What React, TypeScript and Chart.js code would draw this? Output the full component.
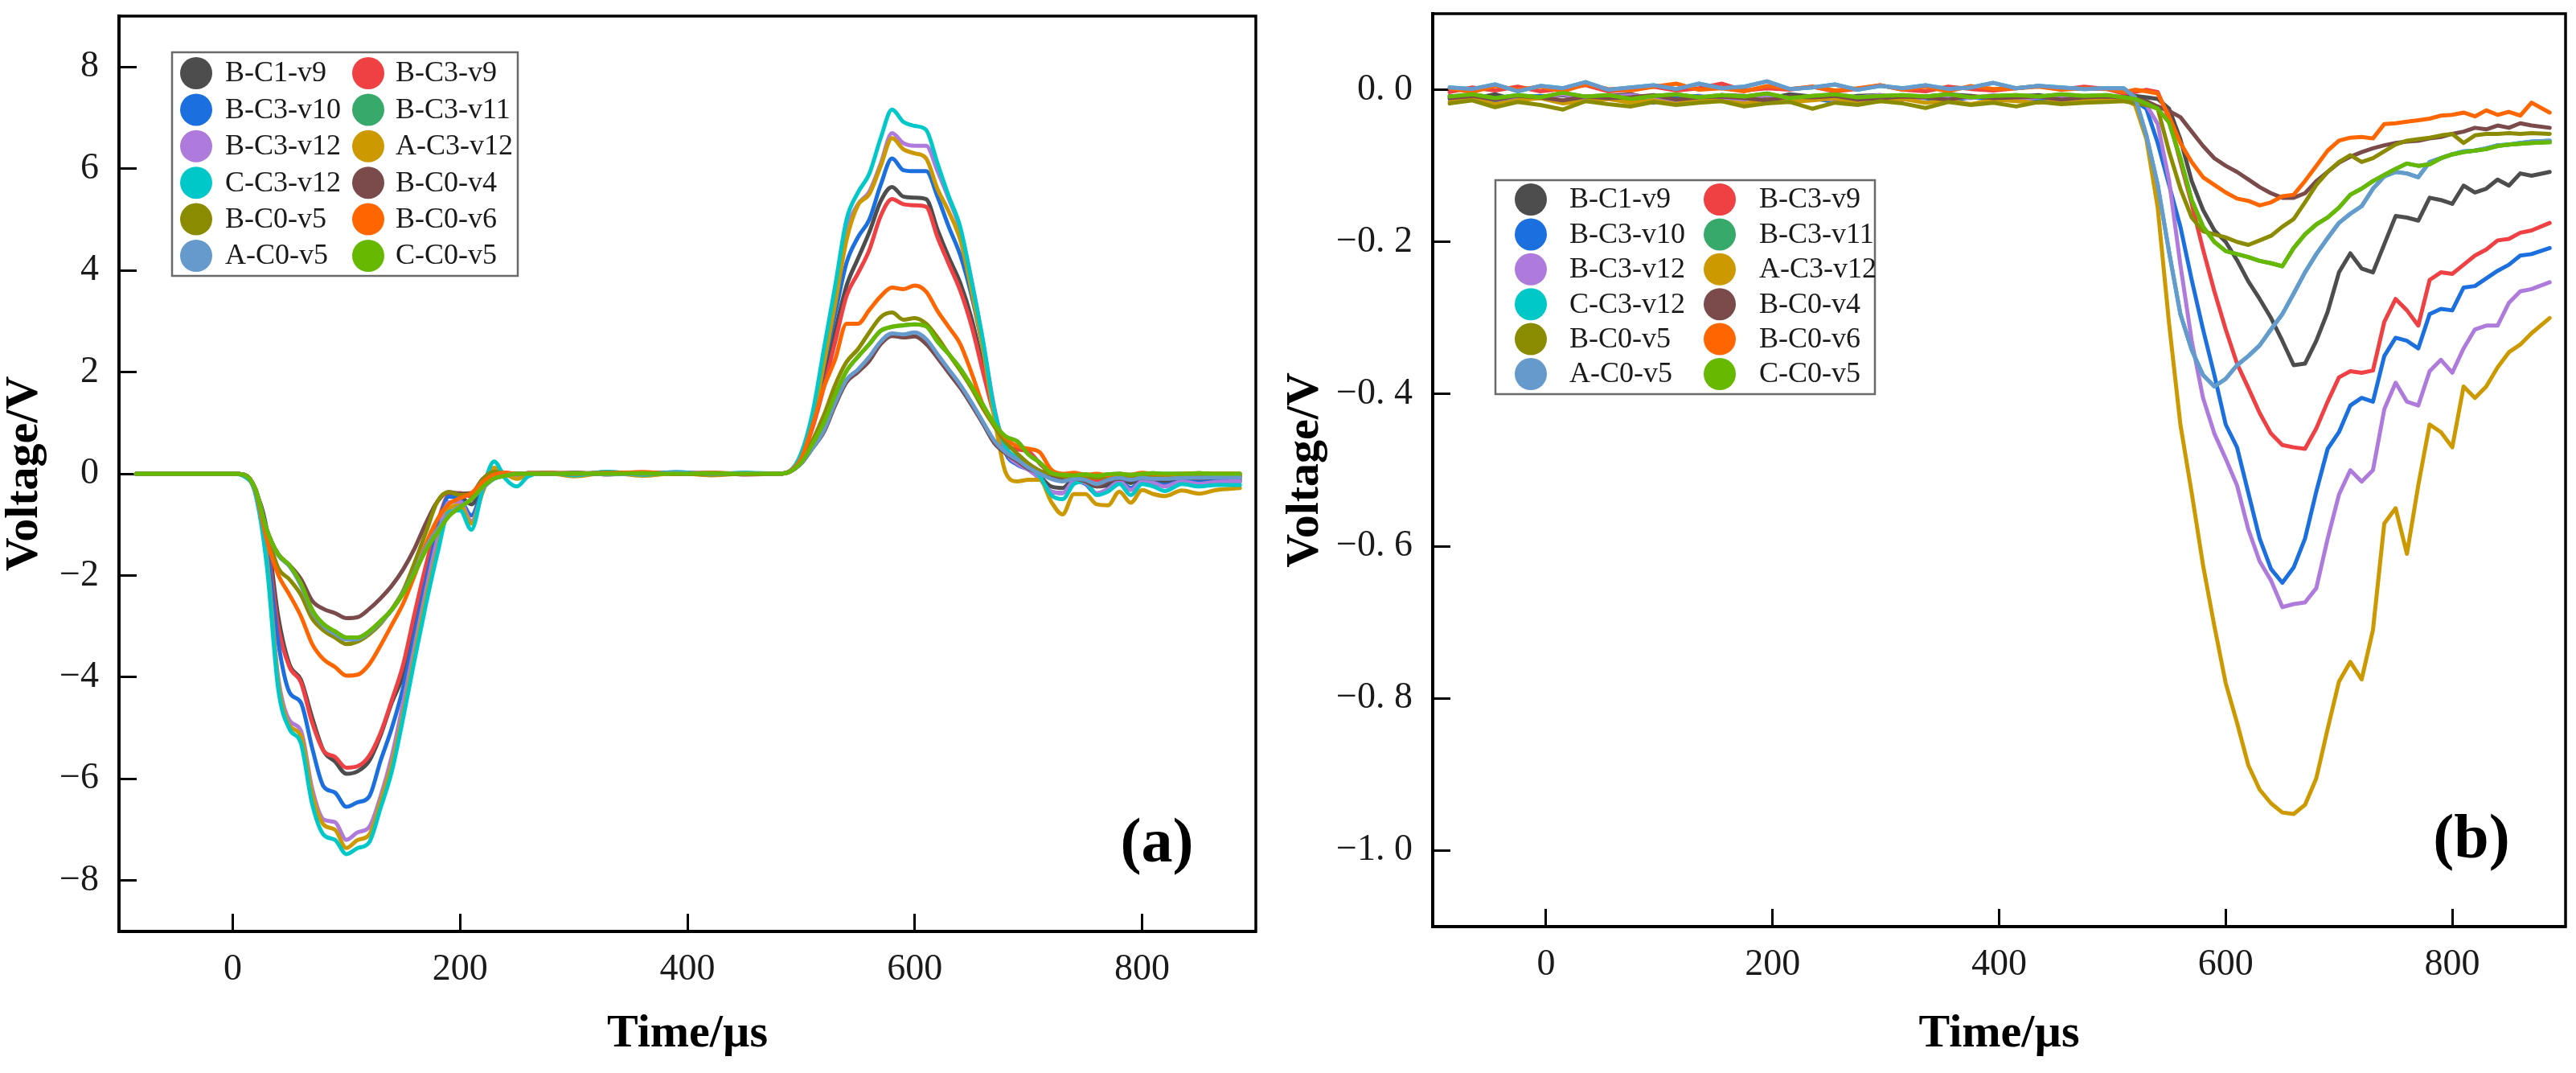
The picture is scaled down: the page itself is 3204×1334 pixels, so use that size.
import React, { useEffect, useRef } from "react";
import { Chart, registerables } from "chart.js";

Chart.register(...registerables);

const SERIF = '"Liberation Serif", "Times New Roman", Times, serif';

const SERIES_NAMES = [
  "B-C1-v9", "B-C3-v9", "B-C3-v10", "B-C3-v11", "B-C3-v12", "A-C3-v12",
  "C-C3-v12", "B-C0-v4", "B-C0-v5", "B-C0-v6", "A-C0-v5", "C-C0-v5",
];
const SERIES_COLORS = [
  "#4d4d4d", "#ef4043", "#1b6fdf", "#36a96b", "#ae7bdc", "#cc9900",
  "#00c8c8", "#7b4b4b", "#8b8b00", "#ff6600", "#6699cc", "#66b800",
];

const X_TICKS = [0, 200, 400, 600, 800];
const Y_TICKS_A = [-8, -6, -4, -2, 0, 2, 4, 6, 8];
const Y_LABELS_A = ["\u22128", "\u22126", "\u22124", "\u22122", "0", "2", "4", "6", "8"];
const Y_TICKS_B = [-1.0, -0.8, -0.6, -0.4, -0.2, 0.0];
const Y_LABELS_B = ["\u22121. 0", "\u22120. 8", "\u22120. 6", "\u22120. 4", "\u22120. 2", "0. 0"];

// ---------- Panel (a) ----------
const TIME_A = [
  -85, -40, 0,
  10, 20, 30, 40, 50, 60, 70, 80, 90, 100, 110, 120, 130, 140, 150, 160, 170, 180, 190, 200, 210, 220, 230, 240, 250, 260,
  280, 300, 330, 360, 390, 420, 450,
  480, 490, 500, 510, 520, 530, 540, 550, 560, 570, 580, 590, 600, 610, 620, 630, 640, 650, 660, 670, 680, 690, 700,
  710, 720, 730, 740, 750, 760, 770, 780, 790, 800, 810, 820,
  835, 850, 865, 886,
];

const A_B_C1_V9 = [
  0, 0, 0,
  -0.02, -0.33, -1.1, -2.8, -3.75, -4.05, -4.8, -5.45, -5.66, -5.9, -5.85, -5.65, -5.15, -4.5, -3.95, -3.0, -2.05, -1.15, -0.44, -0.45, -0.6, -0.25, 0.02, 0.0, -0.02, 0.01,
  0.02, -0.01, 0.03, 0.0, 0.02, -0.02, 0.01,
  0, 0.05, 0.3, 0.95, 1.85, 2.8, 3.7, 4.23, 4.75, 5.36, 5.64, 5.45, 5.43, 5.4, 4.8, 4.25, 3.75, 3.05, 2.1, 1.2, 0.5, 0.25, 0.12,
  -0.05, -0.25, -0.28, -0.1, -0.15, -0.25, -0.22, -0.1, -0.18, -0.1, -0.12, -0.15,
  -0.1, -0.12, -0.1, -0.11,
];
const A_B_C3_V9 = [
  0, 0, 0,
  -0.02, -0.33, -1.3, -3.0, -3.8, -4.1, -4.9, -5.45, -5.57, -5.78, -5.75, -5.55, -5.1, -4.45, -3.75, -2.75, -1.8, -0.98, -0.42, -0.38, -0.45, -0.2, 0.0, 0.02, 0.0, 0.01,
  0.0, 0.02, -0.01, 0.03, 0.0, 0.02, -0.01,
  0, 0.05, 0.3, 0.9, 1.7, 2.6, 3.5, 3.94, 4.4, 5.07, 5.4, 5.3, 5.28, 5.25, 4.65, 4.12, 3.6, 2.9, 2.0, 1.15, 0.6, 0.48, 0.44,
  0.2, 0.0, -0.08, -0.02, -0.05, -0.12, -0.08, -0.03, -0.08, -0.05, -0.06, -0.08,
  -0.05, -0.06, -0.05, -0.05,
];
const A_B_C3_V10 = [
  0, 0, 0,
  -0.02, -0.35, -1.4, -3.3, -4.3, -4.5, -5.4, -6.15, -6.27, -6.55, -6.46, -6.35, -5.65, -5.0, -4.2, -3.15, -2.1, -1.15, -0.45, -0.5, -0.82, -0.3, 0.05, 0.0, -0.05, 0.0,
  0.01, -0.02, 0.02, -0.01, 0.03, 0.0, 0.01,
  0, 0.05, 0.35, 1.0, 2.1, 3.15, 4.15, 4.65, 5.0, 5.68, 6.2, 5.97, 5.95, 5.95, 5.45, 4.85, 4.3, 3.5, 2.45, 1.2, 0.4, 0.18, 0.08,
  -0.1, -0.35, -0.38, -0.15, -0.2, -0.4, -0.3, -0.15, -0.28, -0.15, -0.18, -0.22,
  -0.15, -0.17, -0.15, -0.15,
];
const A_B_C3_V11 = [
  0, 0, 0,
  -0.02, -0.3, -1.1, -1.58, -1.8, -2.15, -2.68, -2.96, -3.1, -3.22, -3.22, -3.1, -2.9, -2.67, -2.35, -1.95, -1.5, -1.16, -0.84, -0.66, -0.5, -0.26, -0.09, -0.04, 0.0, 0.0,
  0.0, 0.01, 0.0, 0.01, 0.0, 0.01, 0.0,
  0, 0.04, 0.22, 0.58, 1.0, 1.55, 2.02, 2.3, 2.55, 2.81, 2.89, 2.92, 2.94, 2.9, 2.6, 2.35, 2.07, 1.72, 1.35, 0.98, 0.73, 0.64, 0.38,
  0.22, 0.02, -0.02, -0.03, -0.01, -0.04, -0.01, 0.0, -0.02, 0.0, 0.01, 0.0,
  0.0, 0.01, 0.0, 0.0,
];
const A_B_C3_V12 = [
  0, 0, 0,
  -0.02, -0.36, -1.65, -4.0, -4.85, -5.05, -6.2, -6.8, -6.85, -7.2, -7.05, -6.95, -6.35, -5.55, -4.5, -3.4, -2.3, -1.3, -0.56, -0.55, -0.93, -0.35, 0.1, -0.02, -0.08, 0.0,
  0.02, 0.0, 0.03, -0.02, 0.01, 0.02, -0.01,
  0, 0.05, 0.38, 1.1, 2.3, 3.6, 4.8, 5.3, 5.55, 6.1, 6.7, 6.5, 6.45, 6.45, 5.95, 5.4, 4.8, 3.8, 2.6, 1.3, 0.45, 0.2, 0.08,
  -0.1, -0.35, -0.38, -0.15, -0.18, -0.38, -0.3, -0.15, -0.32, -0.15, -0.18, -0.25,
  -0.15, -0.2, -0.16, -0.15,
];
const A_A_C3_V12 = [
  0, 0, 0,
  -0.02, -0.36, -1.7, -4.1, -4.95, -5.15, -6.3, -6.9, -7.0, -7.36, -7.2, -7.1, -6.45, -5.7, -4.7, -3.55, -2.45, -1.5, -0.7, -0.62, -0.98, -0.35, 0.12, 0.0, -0.1, -0.02,
  0.0, -0.05, 0.02, -0.04, 0.01, -0.03, 0.0,
  0, 0.05, 0.35, 1.05, 2.15, 3.35, 4.6, 5.28, 5.5, 6.05, 6.6, 6.38, 6.3, 6.2, 5.6, 5.15, 4.6, 3.6, 2.45, 1.1, 0.02, -0.15, -0.12,
  -0.12, -0.55, -0.8, -0.4, -0.4, -0.6, -0.62, -0.35, -0.57, -0.32, -0.4, -0.44,
  -0.33, -0.39, -0.32, -0.28,
];
const A_C_C3_V12 = [
  0, 0, 0,
  -0.05, -0.4, -1.8, -4.22, -5.02, -5.3, -6.5, -7.1, -7.2, -7.48, -7.36, -7.25, -6.58, -5.85, -4.8, -3.66, -2.57, -1.58, -0.76, -0.72, -1.1, -0.3, 0.24, -0.1, -0.25, -0.05,
  0.02, -0.03, 0.04, -0.02, 0.03, -0.01, 0.02,
  0, 0.05, 0.4, 1.19, 2.45, 3.7, 5.0, 5.53, 5.9, 6.6, 7.16, 6.92, 6.84, 6.76, 6.1, 5.45, 4.85, 3.78, 2.62, 1.25, 0.52, 0.32, 0.16,
  -0.05, -0.42, -0.5, -0.2, -0.15, -0.42, -0.35, -0.2, -0.42, -0.2, -0.25, -0.34,
  -0.2, -0.25, -0.22, -0.22,
];
const A_B_C0_V4 = [
  0, 0, 0,
  -0.02, -0.3, -1.1, -1.58, -1.8, -2.07, -2.5, -2.66, -2.74, -2.84, -2.82, -2.66, -2.45, -2.2, -1.88, -1.47, -0.97, -0.55, -0.36, -0.39, -0.38, -0.1, 0.03, 0.0, 0.0, 0.01,
  0.0, 0.02, -0.01, 0.02, 0.0, 0.01, -0.01,
  0, 0.04, 0.2, 0.5, 0.82, 1.35, 1.8, 2.0, 2.22, 2.55, 2.71, 2.68, 2.7, 2.55, 2.28, 1.98, 1.69, 1.35, 0.98, 0.6, 0.4, 0.25, 0.1,
  0.02, -0.07, -0.12, -0.1, -0.15, -0.25, -0.15, -0.1, -0.12, -0.08, -0.1, -0.08,
  -0.07, -0.07, -0.06, -0.05,
];
const A_B_C0_V5 = [
  0, 0, 0,
  -0.02, -0.3, -1.15, -1.85, -2.08, -2.38, -2.85, -3.08, -3.22, -3.35, -3.3, -3.16, -2.95, -2.66, -2.3, -1.75, -1.15, -0.55, -0.36, -0.42, -0.4, -0.11, 0.04, 0.0, 0.0, 0.01,
  0.01, 0.0, 0.02, 0.0, 0.01, -0.01, 0.0,
  0, 0.04, 0.25, 0.65, 1.15, 1.75, 2.2, 2.45, 2.78, 3.08, 3.17, 3.03, 3.06, 2.95, 2.68, 2.35, 2.03, 1.68, 1.28, 0.93, 0.62, 0.4, 0.2,
  0.06, 0.0, -0.05, -0.08, -0.05, -0.08, -0.05, -0.03, -0.05, -0.03, -0.04, -0.03,
  -0.03, -0.03, -0.03, -0.03,
];
const A_B_C0_V6 = [
  0, 0, 0,
  -0.02, -0.33, -1.3, -1.98, -2.38, -2.8, -3.35, -3.65, -3.8, -3.97, -3.95, -3.75, -3.38, -2.97, -2.55, -2.0, -1.38, -0.9, -0.6, -0.48, -0.38, -0.16, -0.02, 0.02, 0.0, 0.01,
  0.02, 0.0, 0.01, 0.03, 0.0, 0.02, 0.0,
  0, 0.05, 0.3, 0.95, 1.7, 2.25, 2.95, 2.95, 3.22, 3.49, 3.66, 3.63, 3.7, 3.58, 3.2, 2.88, 2.55, 1.98, 1.35, 0.98, 0.7, 0.54, 0.49,
  0.42, 0.08, 0.0, 0.02, -0.02, 0.0, -0.03, 0.0, -0.02, 0.02, 0.0, -0.01,
  0.0, 0.01, 0.0, 0.0,
];
const A_A_C0_V5 = [
  0, 0, 0,
  -0.02, -0.3, -1.1, -1.6, -1.82, -2.2, -2.72, -3.0, -3.15, -3.26, -3.25, -3.12, -2.92, -2.68, -2.33, -1.92, -1.45, -1.1, -0.8, -0.64, -0.5, -0.28, -0.1, -0.04, 0.0, 0.0,
  0.0, 0.01, -0.01, 0.0, 0.02, 0.0, 0.01,
  0, 0.04, 0.2, 0.5, 0.85, 1.4, 1.85, 2.05, 2.3, 2.6, 2.76, 2.74, 2.78, 2.65, 2.35, 2.05, 1.75, 1.4, 1.02, 0.65, 0.42, 0.28, 0.12,
  0.0, -0.1, -0.15, -0.1, -0.12, -0.2, -0.12, -0.08, -0.12, -0.08, -0.1, -0.1,
  -0.08, -0.08, -0.07, -0.07,
];
const A_C_C0_V5 = [
  0, 0, 0,
  -0.02, -0.3, -1.1, -1.58, -1.8, -2.15, -2.68, -2.96, -3.1, -3.22, -3.22, -3.1, -2.9, -2.67, -2.35, -1.95, -1.5, -1.16, -0.84, -0.66, -0.5, -0.26, -0.09, -0.04, 0.0, 0.0,
  0.0, 0.01, 0.0, 0.01, 0.0, 0.01, 0.0,
  0, 0.04, 0.22, 0.58, 1.0, 1.55, 2.02, 2.3, 2.55, 2.81, 2.89, 2.92, 2.94, 2.9, 2.6, 2.35, 2.07, 1.72, 1.35, 0.98, 0.73, 0.64, 0.38,
  0.22, 0.02, -0.02, -0.03, -0.01, -0.04, -0.01, 0.0, -0.02, 0.0, 0.01, 0.0,
  0.0, 0.01, 0.0, 0.0,
];
const VALUES_A = [
  A_B_C1_V9, A_B_C3_V9, A_B_C3_V10, A_B_C3_V11, A_B_C3_V12, A_A_C3_V12,
  A_C_C3_V12, A_B_C0_V4, A_B_C0_V5, A_B_C0_V6, A_A_C0_V5, A_C_C0_V5,
];

// ---------- Panel (b) ----------
const TIME_B = [
  -85, -65, -45, -25, -5, 15, 35, 55, 75, 95, 115, 135, 155, 175, 195, 215, 235, 255, 275, 295,
  315, 335, 355, 375, 395, 415, 435, 455, 475, 495,
  510, 520, 530, 540, 550, 560, 570, 580, 590, 600, 610, 620, 630, 640, 650, 660, 670, 680, 690, 700,
  710, 720, 730, 740, 750, 760, 770, 780, 790, 800, 810, 820, 830, 840, 850, 860, 870, 886,
];

const B_B_C1_V9 = [
  -0.008, -0.012, -0.006, -0.014, -0.009, -0.007, -0.013, -0.008, -0.006, -0.012, -0.009, -0.015, -0.007, -0.008, -0.012,
  -0.006, -0.009, -0.013, -0.008, -0.007, -0.012, -0.009, -0.006, -0.008, -0.013, -0.009, -0.007, -0.012, -0.008, -0.009,
  -0.01, -0.008, -0.01, -0.012, -0.025, -0.065, -0.12, -0.158, -0.185, -0.2,
  -0.224, -0.252, -0.275, -0.3, -0.33, -0.362, -0.36, -0.33, -0.292, -0.24,
  -0.215, -0.235, -0.24, -0.203, -0.166, -0.168, -0.172, -0.142, -0.145, -0.15,
  -0.126, -0.135, -0.13, -0.118, -0.126, -0.11, -0.113, -0.108,
];
const B_B_C3_V9 = [
  -0.003, 0.003, -0.001, 0.004, -0.002, 0.001, 0.006, -0.002, 0.0, 0.004, -0.001, 0.002, 0.008, -0.001, 0.002,
  0.0, 0.004, -0.002, 0.001, 0.006, 0.0, -0.002, 0.004, 0.001, -0.001, 0.002, 0.005, 0.0, 0.004, 0.001,
  -0.005, -0.003, 0.0, -0.003, -0.038, -0.095, -0.15, -0.21, -0.265, -0.315,
  -0.36, -0.392, -0.425, -0.452, -0.467, -0.47, -0.472, -0.445, -0.41, -0.378,
  -0.37, -0.372, -0.369, -0.305, -0.275, -0.29, -0.31, -0.25, -0.24, -0.242,
  -0.23, -0.218, -0.21, -0.198, -0.196, -0.188, -0.185, -0.175,
];
const B_B_C3_V10 = [
  -0.012, -0.009, -0.016, -0.01, -0.008, -0.015, -0.011, -0.009, -0.012, -0.017, -0.01, -0.008, -0.014, -0.01, -0.015,
  -0.009, -0.011, -0.016, -0.01, -0.012, -0.009, -0.011, -0.015, -0.01, -0.012, -0.009, -0.013, -0.01, -0.012, -0.011,
  -0.012, -0.015, -0.025, -0.07, -0.125, -0.18, -0.25, -0.315, -0.375, -0.44,
  -0.47, -0.53, -0.59, -0.63, -0.648, -0.628, -0.59, -0.528, -0.472, -0.45,
  -0.415, -0.405, -0.41, -0.35, -0.326, -0.33, -0.34, -0.295, -0.288, -0.29,
  -0.26, -0.258, -0.248, -0.238, -0.23, -0.218, -0.216, -0.208,
];
const B_B_C3_V11 = [
  -0.009, -0.006, -0.011, -0.007, -0.01, -0.004, -0.009, -0.007, -0.012, -0.008, -0.006, -0.01, -0.007, -0.009, -0.005,
  -0.011, -0.008, -0.006, -0.01, -0.008, -0.007, -0.009, -0.006, -0.01, -0.008, -0.007, -0.009, -0.006, -0.008, -0.007,
  -0.01, -0.012, -0.018, -0.025, -0.043, -0.09, -0.145, -0.18, -0.2, -0.212,
  -0.216, -0.22, -0.225, -0.228, -0.232, -0.208, -0.19, -0.177, -0.168, -0.155,
  -0.138, -0.13, -0.12, -0.112, -0.104, -0.097, -0.1, -0.098, -0.09, -0.085,
  -0.082, -0.08, -0.078, -0.074, -0.072, -0.071, -0.07, -0.069,
];
const B_B_C3_V12 = [
  -0.01, -0.007, -0.013, -0.009, -0.011, -0.006, -0.013, -0.01, -0.007, -0.011, -0.014, -0.009, -0.01, -0.013, -0.007,
  -0.011, -0.009, -0.014, -0.01, -0.007, -0.013, -0.01, -0.009, -0.011, -0.007, -0.013, -0.01, -0.009, -0.011, -0.01,
  -0.012, -0.015, -0.02, -0.045, -0.119, -0.23, -0.33, -0.405, -0.452, -0.485,
  -0.52, -0.578, -0.62, -0.645, -0.68, -0.676, -0.674, -0.655, -0.59, -0.532,
  -0.5, -0.515, -0.5, -0.42, -0.385, -0.41, -0.415, -0.37, -0.355, -0.372,
  -0.34, -0.315, -0.31, -0.31, -0.28, -0.265, -0.262, -0.253,
];
const B_A_C3_V12 = [
  -0.016, -0.012, -0.019, -0.014, -0.011, -0.018, -0.015, -0.012, -0.017, -0.014, -0.019, -0.012, -0.015, -0.018, -0.013,
  -0.016, -0.014, -0.011, -0.018, -0.015, -0.012, -0.017, -0.014, -0.019, -0.013, -0.015, -0.017, -0.014, -0.013, -0.012,
  -0.012, -0.02, -0.065, -0.155, -0.307, -0.44, -0.53, -0.625, -0.705, -0.78,
  -0.832, -0.888, -0.92, -0.938, -0.95, -0.952, -0.94, -0.905, -0.84, -0.778,
  -0.752, -0.775, -0.71, -0.57, -0.55, -0.61, -0.52, -0.44, -0.45, -0.47,
  -0.39, -0.405, -0.39, -0.365, -0.345, -0.335, -0.32, -0.3,
];
const B_C_C3_V12 = [
  0.003, 0.001, 0.007, -0.002, 0.005, 0.002, 0.01, 0.0, 0.003, 0.006, 0.001, 0.008, 0.002, 0.004, 0.011,
  0.001, 0.003, 0.007, 0.0, 0.005, 0.002, 0.006, 0.001, 0.003, 0.009, 0.002, 0.005, 0.003, 0.001, 0.002,
  0.002, -0.01, -0.06, -0.125, -0.213, -0.295, -0.342, -0.375, -0.39, -0.38,
  -0.362, -0.35, -0.336, -0.315, -0.295, -0.268, -0.24, -0.216, -0.195, -0.175,
  -0.163, -0.153, -0.13, -0.114, -0.108, -0.11, -0.115, -0.095, -0.09, -0.085,
  -0.081, -0.08, -0.077, -0.073, -0.072, -0.07, -0.068, -0.067,
];
const B_B_C0_V4 = [
  -0.011, -0.008, -0.013, -0.008, -0.01, -0.014, -0.009, -0.011, -0.01, -0.007, -0.013, -0.01, -0.009, -0.011, -0.014,
  -0.009, -0.01, -0.008, -0.013, -0.011, -0.009, -0.01, -0.013, -0.008, -0.011, -0.01, -0.009, -0.013, -0.01, -0.009,
  -0.01, -0.012, -0.015, -0.022, -0.028, -0.036, -0.055, -0.074, -0.09, -0.1,
  -0.108, -0.118, -0.128, -0.136, -0.142, -0.142, -0.136, -0.12, -0.108, -0.096,
  -0.088, -0.082, -0.077, -0.073, -0.07, -0.068, -0.067, -0.064, -0.062, -0.058,
  -0.055, -0.05, -0.052, -0.047, -0.05, -0.044, -0.047, -0.05,
];
const B_B_C0_V5 = [
  -0.018, -0.014, -0.023, -0.016, -0.02, -0.026, -0.015, -0.019, -0.022, -0.016, -0.02, -0.017, -0.015, -0.022, -0.018,
  -0.016, -0.025, -0.017, -0.02, -0.015, -0.018, -0.024, -0.016, -0.02, -0.017, -0.022, -0.016, -0.019, -0.017, -0.016,
  -0.015, -0.018, -0.02, -0.025, -0.081, -0.13, -0.168, -0.186, -0.19, -0.194,
  -0.2, -0.204, -0.198, -0.192, -0.18, -0.17, -0.148, -0.125, -0.108, -0.095,
  -0.086, -0.095, -0.09, -0.081, -0.072, -0.067, -0.065, -0.063, -0.06, -0.058,
  -0.07, -0.06, -0.058, -0.058, -0.057, -0.058, -0.057, -0.058,
];
const B_B_C0_V6 = [
  0.002, -0.003, 0.005, 0.0, 0.004, -0.002, 0.007, 0.001, -0.001, 0.004, 0.008, 0.0, 0.002, -0.002, 0.005,
  0.001, 0.004, -0.001, 0.002, 0.006, 0.0, 0.004, -0.002, 0.005, 0.001, 0.002, 0.004, 0.0, 0.002, 0.001,
  -0.003, 0.0, -0.002, -0.005, -0.035, -0.07, -0.095, -0.115, -0.125, -0.135,
  -0.143, -0.146, -0.152, -0.148, -0.14, -0.138, -0.12, -0.1, -0.08, -0.067,
  -0.063, -0.062, -0.064, -0.045, -0.044, -0.042, -0.04, -0.038, -0.034, -0.033,
  -0.03, -0.035, -0.027, -0.033, -0.029, -0.034, -0.017, -0.03,
];
const B_A_C0_V5 = [
  0.003, 0.001, 0.007, -0.002, 0.005, 0.002, 0.01, 0.0, 0.003, 0.006, 0.001, 0.008, 0.002, 0.004, 0.011,
  0.001, 0.003, 0.007, 0.0, 0.005, 0.002, 0.006, 0.001, 0.003, 0.009, 0.002, 0.005, 0.003, 0.001, 0.002,
  0.002, -0.01, -0.06, -0.125, -0.213, -0.295, -0.342, -0.375, -0.39, -0.38,
  -0.362, -0.35, -0.336, -0.315, -0.295, -0.268, -0.24, -0.216, -0.195, -0.175,
  -0.163, -0.153, -0.13, -0.114, -0.108, -0.11, -0.115, -0.095, -0.09, -0.085,
  -0.081, -0.08, -0.077, -0.073, -0.072, -0.07, -0.068, -0.067,
];
const B_C_C0_V5 = [
  -0.009, -0.006, -0.011, -0.007, -0.01, -0.004, -0.009, -0.007, -0.012, -0.008, -0.006, -0.01, -0.007, -0.009, -0.005,
  -0.011, -0.008, -0.006, -0.01, -0.008, -0.007, -0.009, -0.006, -0.01, -0.008, -0.007, -0.009, -0.006, -0.008, -0.007,
  -0.01, -0.012, -0.018, -0.025, -0.043, -0.09, -0.145, -0.18, -0.2, -0.212,
  -0.216, -0.22, -0.225, -0.228, -0.232, -0.208, -0.19, -0.177, -0.168, -0.155,
  -0.138, -0.13, -0.12, -0.112, -0.104, -0.097, -0.1, -0.098, -0.09, -0.085,
  -0.082, -0.08, -0.078, -0.074, -0.072, -0.071, -0.07, -0.069,
];
const VALUES_B = [
  B_B_C1_V9, B_B_C3_V9, B_B_C3_V10, B_B_C3_V11, B_B_C3_V12, B_A_C3_V12,
  B_C_C3_V12, B_B_C0_V4, B_B_C0_V5, B_B_C0_V6, B_A_C0_V5, B_C_C0_V5,
];

type LegendGeom = {
  x0: number; y0: number; x1: number; y1: number;
  row0: number; rowStep: number; circleX: number[]; textX: number[]; r: number;
};
type PanelCfg = {
  left: number; w: number; h: number;
  area: { left: number; top: number; right: number; bottom: number };
  time: number[]; values: number[][];
  yMin: number; yMax: number; yTicks: number[]; yLabels: string[];
  yTitlePad: number;
  smooth: boolean;
  legend: LegendGeom;
  tag: string; tagX: number; tagY: number;
};

const PANEL_A: PanelCfg = {
  left: 0, w: 1580, h: 1334,
  area: { left: 148, top: 20, right: 1562, bottom: 1158 },
  time: TIME_A, values: VALUES_A,
  yMin: -9, yMax: 9, yTicks: Y_TICKS_A, yLabels: Y_LABELS_A,
  yTitlePad: 2,
  smooth: true,
  legend: { x0: 214, y0: 65, x1: 644, y1: 343, row0: 91, rowStep: 45.4, circleX: [244, 458], textX: [280, 492], r: 20 },
  tag: "(a)", tagX: 1439, tagY: 1051,
};
const PANEL_B: PanelCfg = {
  left: 1580, w: 1624, h: 1334,
  area: { left: 202, top: 17, right: 1611, bottom: 1152 },
  time: TIME_B, values: VALUES_B,
  yMin: -1.1, yMax: 0.1, yTicks: Y_TICKS_B, yLabels: Y_LABELS_B,
  yTitlePad: 15,
  smooth: false,
  legend: { x0: 280, y0: 224, x1: 752, y1: 490, row0: 248, rowStep: 43.4, circleX: [324, 559], textX: [372, 608], r: 20 },
  tag: "(b)", tagX: 1494, tagY: 1046,
};

function Panel({ cfg }: { cfg: PanelCfg }) {
  const ref = useRef<HTMLCanvasElement>(null);
  useEffect(() => {
    const canvas = ref.current;
    if (!canvas) return;
    const { area, w, h } = cfg;
    const datasets = SERIES_NAMES.map((name, i) => ({
      label: name,
      data: cfg.time.map((t, k) => ({ x: t, y: cfg.values[i][k] })),
      borderColor: SERIES_COLORS[i],
      backgroundColor: SERIES_COLORS[i],
      borderWidth: 5,
      pointRadius: 0,
      fill: false,
      order: SERIES_NAMES.length - i,
      tension: cfg.smooth ? 0.4 : 0,
      cubicInterpolationMode: cfg.smooth ? ("monotone" as const) : ("default" as const),
      borderJoinStyle: "round" as const,
      borderCapStyle: "round" as const,
    }));

    const decor = {
      id: "decor",
      afterDraw(chart: any) {
        const ctx = chart.ctx as CanvasRenderingContext2D;
        const ca = chart.chartArea;
        ctx.save();
        ctx.strokeStyle = "#000";
        ctx.lineWidth = 3.5;
        ctx.strokeRect(ca.left, ca.top, ca.right - ca.left, ca.bottom - ca.top);
        const L = cfg.legend;
        ctx.fillStyle = "#fff";
        ctx.fillRect(L.x0, L.y0, L.x1 - L.x0, L.y1 - L.y0);
        ctx.strokeStyle = "#6a6a6a";
        ctx.lineWidth = 2.5;
        ctx.strokeRect(L.x0, L.y0, L.x1 - L.x0, L.y1 - L.y0);
        ctx.font = `36px ${SERIF}`;
        ctx.textBaseline = "middle";
        ctx.textAlign = "left";
        SERIES_NAMES.forEach((name, i) => {
          const row = Math.floor(i / 2);
          const col = i % 2;
          const cy = L.row0 + row * L.rowStep;
          ctx.beginPath();
          ctx.arc(L.circleX[col], cy, L.r, 0, Math.PI * 2);
          ctx.fillStyle = SERIES_COLORS[i];
          ctx.fill();
          ctx.fillStyle = "#1a1a1a";
          ctx.fillText(name, L.textX[col], cy + 1);
        });
        ctx.font = `bold 78px ${SERIF}`;
        ctx.textAlign = "center";
        ctx.fillStyle = "#000";
        ctx.fillText(cfg.tag, cfg.tagX, cfg.tagY);
        ctx.restore();
      },
    };

    const chart = new Chart(canvas, {
      type: "line",
      data: { datasets },
      options: {
        animation: false,
        responsive: false,
        maintainAspectRatio: false,
        devicePixelRatio: 1,
        layout: { padding: { left: 0, top: area.top, right: w - area.right, bottom: 0 } },
        plugins: { legend: { display: false }, tooltip: { enabled: false } },
        scales: {
          x: {
            type: "linear",
            position: "bottom",
            min: -100,
            max: 900,
            afterBuildTicks: (s: any) => {
              s.ticks = X_TICKS.map((v) => ({ value: v }));
            },
            afterFit: (s: any) => {
              s.height = h - area.bottom;
              s.paddingLeft = 0;
              s.paddingRight = 0;
            },
            grid: { display: true, drawOnChartArea: false, drawTicks: true, tickLength: -22, tickWidth: 3, tickColor: "#000" },
            border: { display: true, color: "#000", width: 4 },
            ticks: {
              autoSkip: false,
              maxRotation: 0,
              minRotation: 0,
              color: "#1a1a1a",
              padding: 47,
              font: { family: SERIF, size: 46, lineHeight: 1 },
              callback: (v: any) => String(v),
            },
            title: {
              display: true,
              text: "Time/\u00b5s",
              color: "#000",
              font: { family: SERIF, size: 58, weight: "bold", lineHeight: 1 },
              padding: { top: 0, bottom: 19 },
            },
          },
          y: {
            type: "linear",
            position: "left",
            min: cfg.yMin,
            max: cfg.yMax,
            afterBuildTicks: (s: any) => {
              s.ticks = cfg.yTicks.map((v) => ({ value: v }));
            },
            afterFit: (s: any) => {
              s.width = area.left;
              s.paddingTop = 0;
              s.paddingBottom = 0;
            },
            grid: { display: true, drawOnChartArea: false, drawTicks: true, tickLength: -22, tickWidth: 3, tickColor: "#000" },
            border: { display: true, color: "#000", width: 4 },
            ticks: {
              autoSkip: false,
              color: "#1a1a1a",
              padding: 47,
              font: { family: SERIF, size: 46, lineHeight: 1 },
              callback: (v: any) => {
                const idx = cfg.yTicks.findIndex((t) => Math.abs(t - Number(v)) < 1e-9);
                return idx >= 0 ? cfg.yLabels[idx] : "";
              },
            },
            title: {
              display: true,
              text: "Voltage/V",
              color: "#000",
              font: { family: SERIF, size: 58, weight: "bold", lineHeight: 1 },
              padding: { top: cfg.yTitlePad, bottom: 0 },
            },
          },
        },
      } as any,
      plugins: [decor],
    });
    return () => chart.destroy();
  }, [cfg]);

  return (
    <canvas
      ref={ref}
      width={cfg.w}
      height={cfg.h}
      style={{ position: "absolute", left: cfg.left, top: 0, width: cfg.w, height: cfg.h, display: "block" }}
    />
  );
}

export default function App() {
  return (
    <div style={{ position: "absolute", left: 0, top: 0, width: 3204, height: 1334, background: "#fff" }}>
      <Panel cfg={PANEL_A} />
      <Panel cfg={PANEL_B} />
    </div>
  );
}
